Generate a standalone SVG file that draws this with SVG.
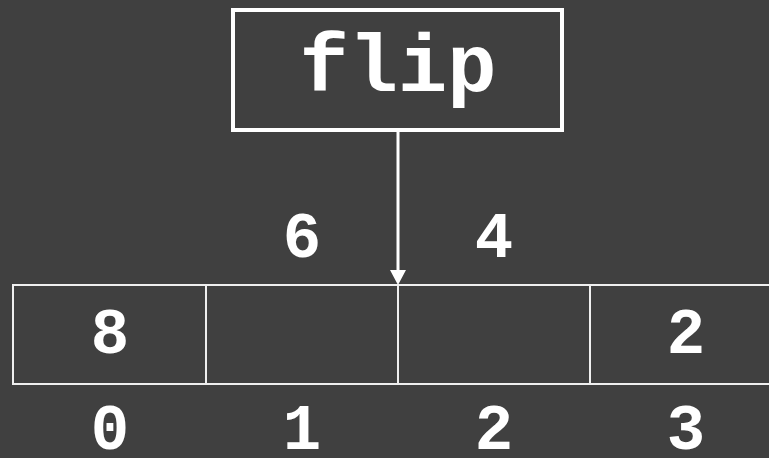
<svg xmlns="http://www.w3.org/2000/svg" width="769" height="458" viewBox="0 0 769 458">
<defs>
<style>
.t{font-family:"Liberation Mono","Courier New",monospace;font-weight:bold;fill:#ffffff;text-anchor:middle}
.d{font-size:64px}
.cell{fill:none;stroke:#f0f0f0;stroke-width:2}
</style>
</defs>
<rect width="769" height="458" fill="#404040"/>
<g id="flip">
<rect x="233" y="10" width="329" height="120" fill="none" stroke="#ffffff" stroke-width="4"/>
<text class="t" x="398" y="91" font-size="82">flip</text>
</g>
<g id="array">
<rect class="cell" x="13" y="285" width="193" height="99"/>
<rect class="cell" x="206" y="285" width="192" height="99"/>
<rect class="cell" x="398" y="285" width="192" height="99"/>
<rect class="cell" x="590" y="285" width="193" height="99"/>
<text class="t d" x="110" y="353">8</text>
<text class="t d" x="686" y="353">2</text>
</g>
<g id="labels">
<text class="t d" x="302" y="257">6</text>
<text class="t d" x="494" y="257">4</text>
<text class="t d" x="110" y="449">0</text>
<text class="t d" x="302" y="449">1</text>
<text class="t d" x="494" y="449">2</text>
<text class="t d" x="686" y="449">3</text>
</g>
<g id="connectors">
<line x1="398" y1="132" x2="398" y2="271" stroke="#ffffff" stroke-width="3"/>
<path d="M390,270 L406,270 L398,285 Z" fill="#ffffff"/>
</g>
</svg>
